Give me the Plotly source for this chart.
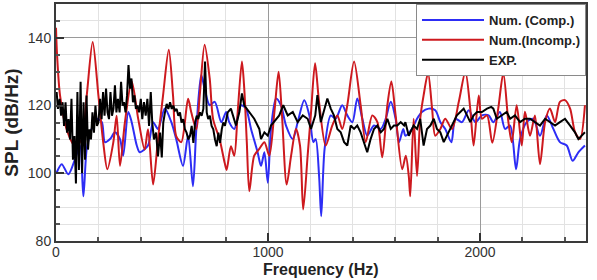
import plotly.graph_objects as go

# ---------------- data ----------------
comp_f = [3, 27, 58, 90, 113, 129, 145, 168, 192, 216, 231, 255, 278, 302, 317, 341, 357, 381, 395,
          434, 458, 481, 513, 544, 567, 599, 623, 646, 662, 685, 701, 725, 749, 780, 803, 817, 841,
          873, 896, 920, 951, 967, 983, 999, 1014, 1038, 1061, 1085, 1117, 1140, 1171, 1195, 1214,
          1225, 1241, 1251, 1267, 1296, 1319, 1350, 1374, 1398, 1421, 1445, 1468, 1500, 1532, 1555,
          1579, 1602, 1618, 1638, 1648, 1679, 1703, 1726, 1758, 1789, 1813, 1836, 1865, 1884, 1915,
          1947, 1978, 2009, 2041, 2063, 2094, 2118, 2142, 2170, 2189, 2220, 2251, 2283, 2315, 2346,
          2377, 2409, 2437, 2464, 2495]
comp_v = [100.2, 102.7, 99.7, 104.2, 108.2, 93.2, 107.2, 113.1, 116.1, 115.1, 109.2, 110.1, 112.1, 110.1,
          105.2, 118.1, 115.1, 108.2, 106.2, 108.2, 115.1, 113.1, 119.1, 115.1, 110.1, 102.2, 111.1,
          96.2, 113.1, 129.0, 125.0, 120.1, 121.1, 115.1, 118.1, 115.1, 113.1, 120.1, 119.1, 113.1,
          106.2, 102.2, 106.2, 97.2, 113.1, 122.1, 120.1, 114.1, 110.1, 115.1, 121.6, 117.1, 109.2,
          110.1, 99.2, 87.3, 107.2, 117.1, 116.1, 120.1, 117.1, 115.1, 122.1, 116.1, 111.1, 114.1,
          113.1, 116.1, 121.1, 116.1, 109.2, 113.1, 111.1, 113.1, 116.1, 118.1, 119.1, 118.6, 115.1,
          113.1, 109.2, 116.1, 115.1, 118.6, 115.1, 117.1, 117.1, 115.1, 118.1, 113.1, 114.1, 101.2,
          110.1, 115.1, 116.1, 111.1, 117.1, 113.1, 109.2, 108.2, 103.7, 106.2, 108.2]

incomp_f = [0, 5, 19, 50, 90, 121, 145, 173, 200, 223, 242, 270, 286, 302, 325, 357, 388, 418, 434, 458,
            481, 505, 532, 552, 567, 591, 623, 638, 662, 678, 701, 725, 741, 772, 796, 805, 825, 841,
            857, 877, 888, 900, 912, 935, 959, 983, 1006, 1030, 1050, 1066, 1088, 1109, 1132, 1151,
            1166, 1187, 1203, 1222, 1241, 1272, 1303, 1327, 1350, 1374, 1406, 1437, 1461, 1492, 1516,
            1539, 1563, 1582, 1602, 1633, 1650, 1664, 1671, 1687, 1703, 1718, 1734, 1755, 1774, 1789,
            1813, 1836, 1868, 1900, 1931, 1954, 1970, 1994, 2009, 2033, 2058, 2086, 2110, 2134, 2150,
            2173, 2197, 2212, 2236, 2259, 2283, 2307, 2330, 2354, 2377, 2401, 2425, 2448, 2472, 2495]
incomp_v = [143.0, 135.0, 123.0, 113.0, 108.0, 110.0, 123.0, 138.8, 123.0, 109.0, 101.2, 109.0, 117.0,
            102.2, 115.0, 127.2, 116.0, 107.0, 113.0, 96.7, 110.0, 123.0, 136.5, 123.0, 111.0, 109.2,
            122.0, 118.0, 113.0, 123.0, 138.0, 128.0, 116.0, 110.0, 103.0, 101.0, 108.0, 105.2, 118.0,
            133.0, 125.0, 109.2, 94.7, 105.2, 107.2, 109.2, 105.2, 118.0, 130.0, 117.1, 96.7, 105.2,
            113.1, 108.2, 89.3, 105.2, 118.0, 132.5, 121.0, 108.2, 114.1, 117.1, 113.1, 120.1, 133.0,
            120.1, 109.2, 117.1, 115.1, 104.7, 120.1, 127.1, 117.1, 101.2, 105.2, 99.2, 93.2, 116.1,
            99.2, 116.1, 123.0, 129.6, 119.1, 111.1, 113.1, 116.1, 113.1, 121.1, 130.0, 119.1, 108.2,
            123.0, 116.1, 117.1, 109.0, 119.1, 129.6, 115.1, 109.2, 120.1, 108.2, 118.2, 111.1, 117.1,
            102.7, 115.1, 119.1, 115.1, 121.1, 121.6, 119.1, 112.2, 110.1, 120.1]

exp_f = [3, 9, 17, 24, 31, 38, 45, 52, 59, 66, 73, 80, 87, 94, 101, 108, 116, 123, 130, 137, 144, 151,
         158, 165, 172, 179, 186, 193, 200, 208, 215, 222, 229, 236, 243, 250, 257, 264, 271, 278, 285,
         292, 300, 307, 314, 321, 328, 335, 342, 349, 356, 363, 370, 377, 384, 392, 400, 407, 415, 423,
         431, 439, 447, 454, 462, 472, 481, 491, 499, 506, 514, 522, 530, 538, 546, 553, 561, 569, 577,
         585, 592, 600, 608, 616, 624, 632, 640, 648, 656, 664, 671, 679, 687, 695, 703, 711, 718, 726,
         734, 742, 750, 758, 766, 774, 782, 789, 797, 810, 825, 849, 865, 877, 888, 912, 935, 959, 967,
         983, 999, 1014, 1038, 1053, 1072, 1093, 1117, 1140, 1164, 1187, 1203, 1223, 1233, 1249, 1280,
         1296, 1311, 1327, 1343, 1359, 1374, 1390, 1406, 1421, 1437, 1453, 1468, 1484, 1500, 1516, 1532,
         1547, 1563, 1579, 1594, 1610, 1626, 1642, 1648, 1664, 1687, 1703, 1718, 1734, 1750, 1766, 1782,
         1797, 1813, 1829, 1844, 1860, 1876, 1891, 1907, 1923, 1939, 1954, 1970, 1986, 2009, 2033, 2053,
         2063, 2079, 2102, 2126, 2142, 2165, 2189, 2212, 2236, 2259, 2283, 2307, 2330, 2354, 2377, 2401,
         2425, 2448, 2464, 2480, 2495]
exp_v = [124, 119, 122, 117, 121, 114, 121, 112, 116, 110, 122, 104, 111, 97, 124, 101, 127, 100, 121, 104,
         123, 107, 113, 110, 118, 112, 120, 114, 115, 122, 116, 124, 117, 125, 118, 116, 124, 117, 119, 126,
         118, 122, 118, 127, 120, 121, 118, 123, 132, 125, 128, 121, 123, 119, 120, 118, 122, 116, 121, 117,
         122, 114, 124, 115, 110, 112, 105, 112, 104.7, 115, 118, 120.5, 119, 121, 119, 120, 118.5, 119, 117,
         118, 115, 116, 113, 112, 110, 111, 114, 109, 115, 117, 116, 118, 117, 119, 133, 118, 116, 117,
         114, 113, 110, 108, 112, 109, 113, 115, 114, 118, 119.1, 114.1, 118.1, 123.6, 120.1, 118.1, 116.1,
         113.1, 110.1, 112.1, 111.1, 114.1, 116.1, 117.1, 120.1, 117.1, 118.1, 115.1, 117.1, 116.1, 113.1,
         117.1, 123.1, 115.1, 122.1, 119.1, 117.1, 113.1, 112.1, 109.2, 108.2, 114.1, 113.1, 114.1, 112.1,
         109.2, 106.2, 110.1, 113.1, 114.1, 112.1, 113.1, 116.1, 113.1, 114.1, 114.1, 115.1, 114.1, 115.1,
         111.1, 114.1, 113.1, 116.1, 108.2, 113.1, 114.1, 116.1, 113.1, 112.1, 109.2, 111.1, 113.1, 115.1,
         117.1, 118.1, 119.1, 117.1, 115.1, 117.1, 118.1, 118.1, 119.1, 119.6, 119.1, 116.1, 117.1, 118.1,
         116.1, 117.1, 115.1, 116.1, 116.1, 115.1, 114.1, 116.1, 115.1, 114.1, 115.1, 116.1, 114.1, 112.1,
         110.1, 111.1, 112.1]

x_ticks = [0, 1000, 2000]
y_ticks = [80, 100, 120, 140]
x_title = "Frequency (Hz)"
y_title = "SPL (dB/Hz)"

FONT = "Arial, Liberation Sans, sans-serif"

fig = go.Figure()
fig.add_trace(go.Scatter(x=comp_f, y=comp_v, mode="lines", name="Num. (Comp.)",
                         line=dict(color="rgb(45,45,245)", width=2, shape="spline", smoothing=0.8)))
fig.add_trace(go.Scatter(x=incomp_f, y=incomp_v, mode="lines", name="Num.(Incomp.)",
                         line=dict(color="rgb(205,25,30)", width=2, shape="spline", smoothing=0.8)))
fig.add_trace(go.Scatter(x=exp_f, y=exp_v, mode="lines", name="EXP.",
                         line=dict(color="black", width=2)))

axis_common = dict(showline=True, mirror=True, linecolor="#3a3a3a", linewidth=2,
                   ticks="inside", ticklen=8, tickwidth=1.5, tickcolor="#333",
                   showgrid=True, gridcolor="#9a9a9a", gridwidth=1, zeroline=False,
                   tickfont=dict(family=FONT, size=14, color="#333"))

fig.update_layout(
    width=597, height=280,
    margin=dict(l=56, r=11, t=4, b=39, autoexpand=False),
    paper_bgcolor="white", plot_bgcolor="white",
    showlegend=True,
    legend=dict(x=1, y=1, xanchor="right", yanchor="top",
                bgcolor="white", bordercolor="#8a8a8a", borderwidth=1,
                font=dict(family=FONT, size=13, color="#222", weight="bold"),
                itemwidth=62, tracegroupgap=0),
    xaxis=dict(range=[0, 2500], tickvals=x_ticks, ticktext=[str(t) for t in x_ticks],
               ticklabelstandoff=-3,
               minor=dict(dtick=200, tick0=0, showgrid=True, gridcolor="#e2e2e2",
                          ticks="inside", ticklen=4, tickcolor="#555"),
               **axis_common),
    yaxis=dict(range=[80, 150], tickvals=y_ticks, ticktext=[str(t) for t in y_ticks],
               minor=dict(dtick=5, tick0=80, showgrid=True, gridcolor="#e2e2e2",
                          ticks="inside", ticklen=4, tickcolor="#555"),
               title=dict(text=y_title, standoff=4,
                          font=dict(family=FONT, size=19, color="#222", weight="bold")),
               **axis_common),
    annotations=[dict(text=x_title, xref="paper", yref="paper", x=0.5, y=0,
                      xanchor="center", yanchor="bottom", yshift=-39, showarrow=False,
                      font=dict(family=FONT, size=16, color="#222", weight="bold"))],
)

fig.write_html("out.html")
